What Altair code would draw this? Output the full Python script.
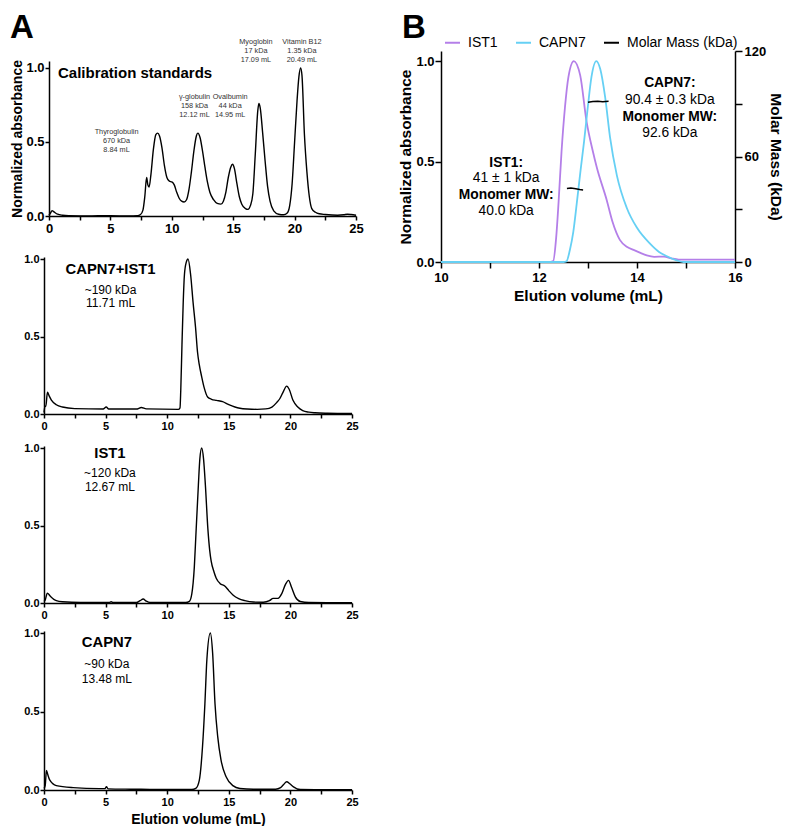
import altair as alt
import pandas as pd

FONT = "Liberation Sans"
PURPLE = "#B47FE8"
CYAN = "#66D0F4"

# ---------------- Panel A data (normalized absorbance vs elution volume, mL) -------------
calib_x = [0, 0.12, 0.25, 0.4, 0.7, 1.1, 1.6, 3.0, 5.0, 6.5,
           7.2, 7.45, 7.65, 7.8, 7.95, 8.05, 8.15, 8.3, 8.5, 8.7,
           8.84, 9.0, 9.2, 9.4, 9.6, 9.8, 10.0, 10.2, 10.4, 10.6,
           10.8, 11.0, 11.2, 11.4, 11.6, 11.8, 12.0, 12.12, 12.3, 12.5,
           12.7, 12.9, 13.1, 13.4, 13.7, 14.0, 14.2, 14.4, 14.6, 14.8,
           14.95, 15.1, 15.3, 15.5, 15.7, 16.0, 16.2, 16.4, 16.6, 16.8,
           17.0, 17.09, 17.2, 17.4, 17.6, 17.8, 18.0, 18.3, 18.7, 19.1,
           19.4, 19.6, 19.8, 20.0, 20.2, 20.35, 20.49, 20.6, 20.8, 21.0,
           21.2, 21.4, 21.7, 22.0, 22.5, 23.5, 24.0, 24.3, 24.6, 25.0]
calib_y = [0.005, 0.02, 0.036, 0.028, 0.012, 0.005, 0.002, 0.001, 0.002, 0.0,
           0.002, 0.01, 0.04, 0.13, 0.26, 0.21, 0.195, 0.28, 0.45, 0.55,
           0.56, 0.54, 0.46, 0.34, 0.26, 0.235, 0.23, 0.21, 0.16, 0.12,
           0.1, 0.095, 0.11, 0.18, 0.3, 0.44, 0.54, 0.56, 0.53, 0.44,
           0.33, 0.23, 0.16, 0.11, 0.085, 0.08, 0.1, 0.16, 0.26, 0.33,
           0.35, 0.32, 0.22, 0.13, 0.08, 0.05, 0.045, 0.07, 0.15, 0.42,
           0.71, 0.76, 0.73, 0.56, 0.37, 0.2, 0.1, 0.035, 0.012, 0.008,
           0.02, 0.07, 0.22, 0.5, 0.78, 0.94, 1.0, 0.95, 0.55, 0.3,
           0.13, 0.05, 0.025, 0.015, 0.01, 0.005, 0.008, 0.012, 0.01, 0.005]

complex_x = [0, 0.08, 0.15, 0.28, 0.4, 0.6, 1.0, 1.5, 2.5, 4.8,
             5.05, 5.25, 7.5, 7.9, 8.3, 10.9, 11.04, 11.1, 11.2, 11.3,
             11.4, 11.55, 11.69, 11.9, 12.1, 12.3, 12.46, 12.6, 12.8, 13.0,
             13.28, 13.6, 14.0, 14.5, 15.0, 15.5, 15.9, 16.5, 17.3, 18.0,
             18.5, 18.9, 19.15, 19.4, 19.7, 19.9, 20.2, 20.6, 21.0, 21.5,
             22.0, 23.0, 25.0]
complex_y = [0.01, 0.05, 0.05, 0.14, 0.12, 0.09, 0.06, 0.045, 0.035, 0.032,
             0.045, 0.032, 0.032, 0.042, 0.033, 0.03, 0.04, 0.15, 0.45, 0.72,
             0.9, 0.98, 1.0, 0.9, 0.72, 0.56, 0.4, 0.32, 0.24, 0.17,
             0.11, 0.095, 0.088, 0.08, 0.06, 0.045, 0.037, 0.032, 0.03, 0.033,
             0.045, 0.075, 0.1, 0.14, 0.18, 0.16, 0.09, 0.045, 0.022, 0.012,
             0.008, 0.005, 0.003]

ist1_x = [0, 0.1, 0.27, 0.5, 1.0, 1.5, 3.0, 5.3, 5.45, 5.6,
          7.5, 7.8, 8.05, 8.3, 8.6, 11.5, 11.8, 12.0, 12.2, 12.33,
          12.53, 12.65, 12.8, 12.95, 13.1, 13.3, 13.45, 13.57, 13.8, 13.98,
          14.3, 14.67, 15.0, 15.36, 15.8, 16.3, 17.0, 17.8, 18.3, 18.6,
          19.0, 19.3, 19.6, 19.85, 20.1, 20.4, 20.8, 21.5, 25.0]
ist1_y = [0.01, 0.02, 0.064, 0.045, 0.015, 0.008, 0.004, 0.004, 0.008, 0.003,
          0.003, 0.015, 0.026, 0.012, 0.003, 0.003, 0.01, 0.06, 0.23, 0.44,
          0.76, 0.93, 1.0, 0.93, 0.76, 0.48, 0.34, 0.27, 0.2, 0.16,
          0.125, 0.11, 0.08, 0.05, 0.028, 0.015, 0.006, 0.005, 0.015, 0.03,
          0.03, 0.06, 0.12, 0.146, 0.1, 0.04, 0.01, 0.003, 0.002]

capn7_x = [0, 0.1, 0.2, 0.3, 0.46, 1.0, 2.36, 4.5, 4.95, 5.07,
           5.2, 7.0, 8.6, 12.0, 12.32, 12.6, 12.87, 13.06, 13.22, 13.5,
           13.69, 13.88, 14.1, 14.37, 14.78, 15.33, 15.9, 17.0, 18.8, 19.2,
           19.45, 19.7, 19.95, 20.25, 20.8, 22.0, 25.0]
capn7_y = [0.01, 0.03, 0.125, 0.1, 0.064, 0.028, 0.015, 0.009, 0.009, 0.021,
           0.007, 0.005, 0.004, 0.003, 0.01, 0.06, 0.28, 0.55, 0.83, 1.0,
           0.87, 0.55, 0.34, 0.19, 0.085, 0.028, 0.01, 0.005, 0.005, 0.015,
           0.035, 0.053, 0.04, 0.02, 0.003, 0.002, 0.002]

# calibration standard labels
std_name = ["Thyroglobulin", "\u03b3-globulin", "Ovalbumin", "Myoglobin", "Vitamin B12"]
std_kda = ["670 kDa", "158 kDa", "44 kDa", "17 kDa", "1.35 kDa"]
std_ml = ["8.84 mL", "12.12 mL", "14.95 mL", "17.09 mL", "20.49 mL"]
std_x = [5.5, 11.85, 14.75, 16.85, 20.6]
std_y = [0.57, 0.805, 0.805, 1.177, 1.177]
std_step = 0.062

# sample labels in lower panels
sample_name = ["CAPN7+IST1", "IST1", "CAPN7"]
sample_kda = ["~190 kDa", "~120 kDa", "~90 kDa"]
sample_ml = ["11.71 mL", "12.67 mL", "13.48 mL"]
sample_x = [5.4, 5.35, 5.1]
sample_y_title = [0.93, 0.96, 0.936]
sample_y_kda = [0.80, 0.84, 0.80]
sample_y_ml = [0.716, 0.75, 0.71]

# ---------------- Panel B data ----------------
b_ist1_x = [10.0, 12.2, 12.29, 12.35, 12.4, 12.46, 12.53, 12.6, 12.71, 12.84,
            12.97, 13.1, 13.18, 13.38, 13.5, 13.65, 13.8, 13.93, 14.07, 14.2,
            14.35, 14.55, 14.7, 14.85, 15.2, 16.0]
b_ist1_y = [0.0, 0.0, 0.005, 0.12, 0.3, 0.55, 0.77, 0.92, 1.0, 0.93,
            0.7, 0.55, 0.47, 0.31, 0.2, 0.11, 0.075, 0.06, 0.045, 0.033,
            0.026, 0.027, 0.018, 0.012, 0.012, 0.012]
b_capn7_x = [10.0, 12.5, 12.56, 12.63, 12.7, 12.77, 12.85, 12.92, 13.0, 13.07,
             13.17, 13.25, 13.35, 13.45, 13.59, 13.79, 14.0, 14.27, 14.45, 14.6,
             14.81, 14.95, 16.0]
b_capn7_y = [0.0, 0.0, 0.003, 0.06, 0.15, 0.29, 0.46, 0.6, 0.78, 0.92,
             1.0, 0.96, 0.82, 0.62, 0.43, 0.27, 0.17, 0.09, 0.05, 0.03,
             0.008, 0.0, 0.0]
mm_group = ["IST1"] * 5 + ["CAPN7"] * 5
mm_x = [12.57, 12.65, 12.75, 12.83, 12.9, 13.0, 13.1, 13.2, 13.3, 13.42]
mm_y = [41.8, 42.1, 41.7, 41.2, 41.0, 90.8, 91.3, 91.4, 91.2, 91.4]

series_names = ["IST1", "CAPN7", "Molar Mass (kDa)"]
series_colors = [PURPLE, CYAN, "black"]

b_bold_text = ["IST1:", "Monomer MW:", "CAPN7:", "Monomer MW:"]
b_bold_x = [11.33, 11.33, 14.67, 14.67]
b_bold_y = [0.491, 0.333, 0.889, 0.723]
b_reg_text = ["41 \u00b1 1 kDa", "40.0 kDa", "90.4 \u00b1 0.3 kDa", "92.6 kDa"]
b_reg_x = [11.33, 11.33, 14.67, 14.67]
b_reg_y = [0.419, 0.255, 0.806, 0.643]

# ---------------- helpers ----------------
A_TICKS = [0, 2.5, 5, 7.5, 10, 12.5, 15, 17.5, 20, 22.5, 25]


def a_x_axis(size, title):
    return alt.Axis(values=A_TICKS,
                    labelExpr="datum.value % 5 == 0 ? format(datum.value, 'd') : ''",
                    title=title, tickSize=4, tickWidth=1.5, domainWidth=1.5, grid=False,
                    labelFontSize=size, labelPadding=2, titleFontSize=14, titlePadding=5,
                    labelFlush=False, labelOverlap=False)


def a_y_axis(size, title, offset):
    return alt.Axis(values=[0, 0.5, 1.0], format=".1f", title=title, offset=offset,
                    tickSize=4, tickWidth=1.5, domainWidth=1.5, grid=False,
                    labelFontSize=size, labelPadding=1, titleFontSize=14, titlePadding=1,
                    labelFlush=False, labelOverlap=False)


def text_layer(xs, ys, texts, xenc, yenc, size, weight="normal", color="black", align="center"):
    df = pd.DataFrame({"x": xs, "y": ys, "t": texts})
    return alt.Chart(df).mark_text(font=FONT, fontSize=size, fontWeight=weight, color=color,
                                   align=align, baseline="middle").encode(x=xenc, y=yenc, text="t:N")


def panel_a(xs, ys, width, height, xr, yr, ytop, size, ytitle, xtitle, yoffset, extra):
    df = pd.DataFrame({"x": xs, "y": ys})
    xenc = alt.X("x:Q", scale=alt.Scale(domain=[0, 25], range=xr, nice=False, zero=False),
                 axis=a_x_axis(size, xtitle))
    yenc = alt.Y("y:Q", scale=alt.Scale(domain=[0, ytop], range=yr, nice=False, zero=False),
                 axis=a_y_axis(size, ytitle, yoffset))
    line = alt.Chart(df).mark_line(color="black", strokeWidth=1.4, interpolate="monotone").encode(x=xenc, y=yenc)
    layers = [line] + extra(xenc, yenc)
    return alt.layer(*layers).properties(width=width, height=height)


def calib_extra(xenc, yenc):
    out = [text_layer([0.73], [0.966], ["Calibration standards"], xenc, yenc, 15, "bold", align="left")]
    lines_x, lines_y, lines_t = [], [], []
    for i in range(len(std_name)):
        for j, t in enumerate([std_name[i], std_kda[i], std_ml[i]]):
            lines_x.append(std_x[i])
            lines_y.append(std_y[i] - j * std_step)
            lines_t.append(t)
    out.append(text_layer(lines_x, lines_y, lines_t, xenc, yenc, 7.3, "normal", color="#333333"))
    out.append(alt.Chart(pd.DataFrame({"t": ["A"]})).mark_text(
        font=FONT, fontSize=33, fontWeight="bold", align="left", baseline="top").encode(
        text="t:N", x=alt.value(-34), y=alt.value(-39)))
    return out


def sample_extra(k):
    def f(xenc, yenc):
        return [text_layer([sample_x[k]], [sample_y_title[k]], [sample_name[k]], xenc, yenc, 14.8, "bold"),
                text_layer([sample_x[k], sample_x[k]], [sample_y_kda[k], sample_y_ml[k]],
                           [sample_kda[k], sample_ml[k]], xenc, yenc, 12, "normal")]
    return f


A1 = panel_a(calib_x, calib_y, 312, 165, [5, 312], [165, 10], 1.047, 13,
             "Normalized absorbance", None, -5, calib_extra)
A2 = panel_a(complex_x, complex_y, 312, 173, [0, 308], [173, 16], 1.013, 11, None, None, 0, sample_extra(0))
A3 = panel_a(ist1_x, ist1_y, 312, 164, [0, 308], [164, 7], 1.013, 11, None, None, 0, sample_extra(1))
A4 = panel_a(capn7_x, capn7_y, 312, 162, [0, 308], [162, 3], 1.013, 11, None,
             "Elution volume (mL)", 0, sample_extra(2))

left = alt.vconcat(A1, A2, A3, A4, spacing=25, bounds="flush")

# ---------------- Panel B ----------------
xB = alt.X("x:Q", scale=alt.Scale(domain=[10, 16], nice=False, zero=False),
           axis=alt.Axis(values=[10, 11, 12, 13, 14, 15, 16],
                         labelExpr="datum.value % 2 == 0 ? format(datum.value, 'd') : ''",
                         title="Elution volume (mL)", tickSize=6, tickWidth=1.5, domainWidth=1.5,
                         labelFontSize=13, labelPadding=3, titleFontSize=15.5, titlePadding=4,
                         labelFlush=False, grid=False))
yB = alt.Y("y:Q", scale=alt.Scale(domain=[0, 1.05], nice=False, zero=False),
           axis=alt.Axis(values=[0, 0.5, 1.0], format=".1f", title="Normalized absorbance",
                         tickSize=6, tickWidth=1.5, domainWidth=1.5, labelFontSize=13, labelPadding=1,
                         titleFontSize=15.5, titlePadding=2, labelFlush=False, grid=False))
yM = alt.Y("m:Q", scale=alt.Scale(domain=[0, 120], nice=False, zero=False),
           axis=alt.Axis(orient="right", values=[0, 30, 60, 90, 120],
                         labelExpr="datum.value % 60 == 0 ? format(datum.value, 'd') : ''",
                         title="Molar Mass (kDa)", tickSize=7, tickWidth=1.5, domainWidth=1.5,
                         labelFontSize=13, labelPadding=2, titleFontSize=15.5, titlePadding=2,
                         labelFlush=False, grid=False))
colorB = alt.Color("s:N", scale=alt.Scale(domain=series_names, range=series_colors),
                   legend=alt.Legend(orient="none", legendX=400, legendY=-17, direction="horizontal",
                                     title=None, symbolType="stroke", symbolSize=225,
                                     symbolStrokeWidth=2, labelFont=FONT, labelFontSize=14,
                                     labelColor="black", labelOffset=7, columnPadding=14, padding=0))

df_bi = pd.DataFrame({"x": b_ist1_x, "y": b_ist1_y, "s": "IST1"})
df_bc = pd.DataFrame({"x": b_capn7_x, "y": b_capn7_y, "s": "CAPN7"})
df_mm = pd.DataFrame({"x": mm_x, "m": mm_y, "g": mm_group, "s": "Molar Mass (kDa)"})

line_bi = alt.Chart(df_bi).mark_line(strokeWidth=1.8, interpolate="monotone").encode(x=xB, y=yB, color=colorB)
line_bc = alt.Chart(df_bc).mark_line(strokeWidth=1.8, interpolate="monotone").encode(x=xB, y=yB, color=colorB)
bold_b = text_layer(b_bold_x, b_bold_y, b_bold_text, xB, yB, 13.8, "bold")
reg_b = text_layer(b_reg_x, b_reg_y, b_reg_text, xB, yB, 13.8, "normal")
label_b = alt.Chart(pd.DataFrame({"t": ["B"]})).mark_text(
    font=FONT, fontSize=33, fontWeight="bold", align="left", baseline="top").encode(
    text="t:N", x=alt.value(-39), y=alt.value(-39))
spectra = alt.layer(line_bi, line_bc, bold_b, reg_b, label_b)
line_mm = alt.Chart(df_mm).mark_line(strokeWidth=1.5).encode(x=xB, y=yM, color=colorB, detail="g:N")

B = alt.layer(spectra, line_mm).resolve_scale(y="independent").properties(width=294, height=211)

chart = alt.hconcat(left, B, spacing=34).properties(
    padding={"left": 2, "top": 4, "right": 1, "bottom": 0}
).configure(font=FONT).configure_view(stroke=None).configure_axis(
    labelFont=FONT, titleFont=FONT, labelColor="black", titleColor="black", domainColor="black",
    tickColor="black", labelFontWeight="bold", titleFontWeight="bold", grid=False
)

chart.save("out.html", embed_options={"renderer": "svg", "actions": False})
